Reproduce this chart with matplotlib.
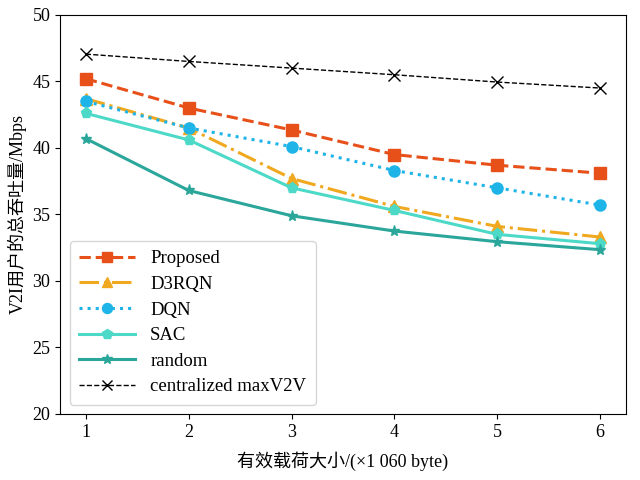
import numpy as np
import matplotlib
matplotlib.use('Agg')
import matplotlib.pyplot as plt

plt.rcParams['font.family'] = ['Liberation Serif', 'Noto Sans CJK SC', 'DejaVu Sans']
plt.rcParams['font.size'] = 13

payload = [1, 2, 3, 4, 5, 6]
proposed = [45.2, 43.0, 41.35, 39.5, 38.7, 38.1]
d3rqn = [43.7, 41.5, 37.7, 35.6, 34.1, 33.3]
dqn = [43.5, 41.5, 40.1, 38.3, 37.0, 35.7]
sac = [42.6, 40.6, 37.0, 35.3, 33.5, 32.8]
random_ = [40.7, 36.8, 34.9, 33.75, 32.95, 32.35]
central = [47.05, 46.5, 46.0, 45.5, 44.95, 44.5]

fig, ax = plt.subplots(figsize=(6.4, 4.8), dpi=100)
fig.subplots_adjust(left=0.094, right=0.978, top=0.969, bottom=0.1375)

ax.plot(payload, proposed, '--', color='#E8501A', lw=2.2, marker='s', ms=8, label='Proposed')
ax.plot(payload, d3rqn, '-.', color='#F0A81F', lw=2.2, marker='^', ms=8, label='D3RQN')
ax.plot(payload, dqn, ':', color='#1EB4E8', lw=2.2, marker='o', ms=8, label='DQN')
ax.plot(payload, sac, '-', color='#4DD9C8', lw=2.2, marker='p', ms=8, label='SAC')
ax.plot(payload, random_, '-', color='#2AA69A', lw=2.2, marker='*', ms=8, label='random')
ax.plot(payload, central, '--', color='black', lw=1, marker='x', ms=8, label='centralized maxV2V')

ax.set_ylim(20, 50)
ax.set_xticks(payload)
ax.set_xlabel('有效载荷大小/(×1 060 byte)', fontsize=13, labelpad=8)
ax.set_ylabel('V2I用户的总吞吐量/Mbps', fontsize=13)
ax.legend(loc='lower left', fontsize=13.5, handlelength=3.0, labelspacing=0.45,
          markerscale=0.9, borderpad=0.5)

fig.savefig('out.png')
